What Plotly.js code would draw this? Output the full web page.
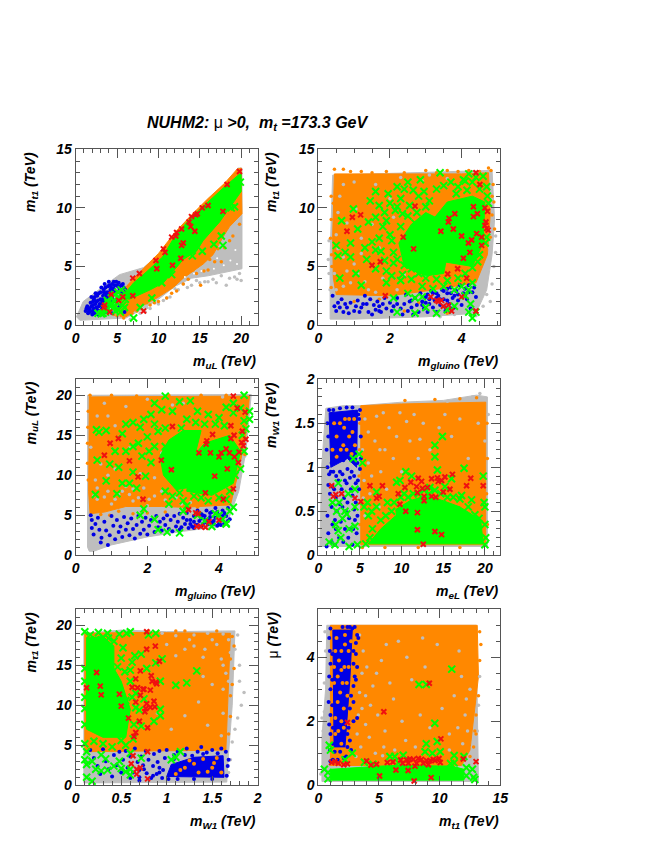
<!DOCTYPE html>
<html><head><meta charset="utf-8">
<script src="https://cdn.plot.ly/plotly-3.0.1.min.js"></script>
<style>html,body{margin:0;padding:0;background:#fff}</style></head><body>
<div id="chart" style="width:654px;height:846px"></div>
<script>
// Values, as flat x,y lists. Area = densely filled outline of a cloud.
const p1GrayArea=[0.1,0.7,0.9,2,2.5,2.85,5.3,4.3,8.2,4.9,10.6,6.3,12.6,7.7,15.8,10,18.6,12,19.6,13.4,20.1,13.4,20.1,4.8,18,4.5,16,4.2,14,4,12,3.3,10,2.2,8.2,1.4,6.1,0.6,0.5,0.4];
const p1Gray=[20,3.8,19.8,4.4,19.5,3.9,19.2,4.1,18.6,4,18.2,3.4,17.6,4.2,17,3.6,16.6,3.9,16,3.7,15.6,3.7,15,3.6,14.6,3.8,14,3.4,13.5,3.2,13,3.5,12.4,3,12,3.1,11.4,2.4,11,2.3,10.6,2.1,10,1.8,9.6,1.9,9,1.4,8.6,1.5,8.4,1.1,7.8,1,6.6,0.5];
const p1Specks=[19.5,5.2,18.7,5.5,17.9,5.1,16.7,4.8,15.2,4.6,14.3,4.4,13.2,4.1,19.3,6.4,17.1,5.7];
const p1OrangeArea=[6,3.2,8,4.7,10,6.1,12,7.9,14,9.4,16,10.8,18,12.1,19.5,13.3,20,13.4,20.1,9.5,18.6,8.4,17.8,7.5,16.6,6,15.4,5.2,13,4,11.8,3.2,9.8,2.3,7.7,1.5,6.1,0.7,5.4,0.7,5,1.5];
const p1Orange=[19.8,8.6,19,7.6,18.6,7.2,18,6.6,17.2,6.5,16.8,5.4,16,4.7,15.5,4.6,14.6,4.4,14.2,4.7,13.6,3.9,13,3.5,12.2,2.9,11.6,2.7,11,2.3,10,2,9.5,1.9,9,1.7,8.6,1.9,7.4,1.2,6.8,1,5.8,0.6,5,0.8,15.1,3.4,17.6,5.4,16.2,5.6,4.6,0.9,6.4,3.3];
const p1Blue=[1.2,1.2,1.4,1.6,1.5,1,1.7,1.4,1.8,1.9,2,1.2,2.1,1.7,2.2,2.2,2.3,1,2.5,1.5,2.5,2,2.6,2.5,2.8,1.2,2.9,1.8,3,2.2,3,2.8,3.2,1.4,3.3,2.5,3.4,3,3.5,1.9,3.6,2.2,3.7,1.1,3.8,2.8,3.9,3.3,4,2.3,4.1,1.7,4.2,3,4.3,2,4.4,3.5,4.5,2.6,4.6,3.1,4.7,1.4,4.8,2,4.9,3.7,5,2.8,5.1,3.3,5.2,3.6,5.3,1.6,5.4,3,5.5,3.4,5.6,2.7,5.7,3.5,5.8,3.2,5.9,1.1,6,3,3.4,1.1,2.7,0.9,2,0.9,4.4,1,1.9,2.4,3.1,3.2,3.5,3.5,2.4,2.7,4,3.7,4.6,3.7,2.2,1.4,2.8,1.6,3.2,2,3.8,1.5,3.7,2.5,4.1,2.8,2.4,1.8,3,1.1,1.6,1.2,1.9,1.6,2.1,2,2.3,2.4,2.7,2.1,2.8,2.7,3.1,1.7,3.3,2.2,3.4,2.8,3.6,3.2,3.7,1.8,3.9,2.5,4.1,3.4,4.3,3.2,4.4,2.3,4.5,3,4.7,3.4,4.8,2.8,5,3.4,5.3,3.1,5.5,2.6,1.3,1.4,1.7,1.1,3.6,2.7,4.2,2.6,2.6,1.3,2.2,1.1];
const p1GreenArea=[5.5,2.3,7,3.6,8.5,4.5,10.5,5.8,12,7.6,14,9.2,16,10.5,18,11.8,20,13,20,11.4,18.6,10,17.4,8.8,15.4,7.2,14.6,6.3,13,5.6,11.8,4.6,10.6,3.6,9,3,6.5,2.2];
const p1GreenX=[7,0.6,7.8,1.5,9.2,2.3,10.4,3.6,11.6,4.3,14.1,5.9,15.3,6.3,16.7,6.9,17.8,6.8,17.6,7.6,18.8,10,19.2,10.1,19.9,12.2,2.7,1,3.1,0.95,3.6,1.1,4.6,1.5,5.2,1.3,5.4,1.1,4.2,1.6,5.6,2.5,9.9,4.3,8.1,3.3,3.3,1,3.9,1.4,4.4,1.8,4.8,1.2,5,1.9,5.7,1.7,5.2,2.4,4.6,2.1,3.9,1.9,3.5,1.4,3.8,2.1,4.3,2.3,5.1,2.8,5.5,3,4.7,2.6,6,2.2,6.3,2.8,5.9,1.5];
const p1RedX=[19.8,13.1,18.3,12,17.8,9.7,16,10.2,15.3,10,14.7,9.5,14.5,9.4,14,9.25,13.7,8.8,13.9,8.4,14.4,8,12.8,8.2,12.2,7.9,12.1,7.6,11.6,7.5,13,7,12.8,6.8,10.6,6.5,10.8,6.2,9.7,5.5,9.8,4.8,11.7,5.1,12.7,5.7,7.7,4.4,6.9,4,6.9,2.5,5.7,2.4,5.2,2.1,4.3,2.6,3.5,1.7,3.4,1.5,4.1,1.1,8.2,1.2];

const p2GrayArea=[0.33,0.5,0.33,6,0.4,12.8,4.85,13.2,4.92,9,4.85,6,4.7,3,4.4,1,3,0.7,1,0.5];
const p2Gray=[4.95,7.6,4.95,6.2,4.9,5,4.85,3.5,4.8,2,4.7,2.6,4.6,1.6,0.28,5.6,0.3,7.2,0.3,4.4,0.33,3,4.4,0.8,3.4,0.7,3.8,0.9,2.6,6.6,1.2,6.1,0.8,4.6,0.7,5.8,0.55,6.5,0.9,3.6,1.4,3,2.1,9.2,1.5,8.6,0.6,11,1,12.2,2.3,12.6,3.1,12.8,1.8,4,1.1,4.4,0.5,3,3,4.2,2.2,3,1.6,2.8,0.45,4.4,0.7,3.3,1,5.2,1.3,3.7,1.9,4.6,2.4,4.3,0.5,7.7,0.8,8.7,1.2,7.4,1.7,6.6,2,10.8,0.55,9.6,1.6,12,0.7,12,1.05,9.9,2.9,12.3,3.6,12.5,4.75,4.9,4.78,6.6];
const p2OrangeArea=[0.4,7.5,0.45,12.9,2,12.9,4,12.9,4.75,13,4.8,9.5,4.72,6,4.4,3.6,3,2.9,2,2.5,0.5,2.6,0.42,4];
const p2Orange=[0.34,7.4,0.36,9,0.42,10.4,0.36,11,0.45,13.3,0.7,13.3,0.9,13.1,1.2,13.1,1.5,13,1.9,13.1,2.4,13,3,13.2,3.3,13,3.6,13.2,3.9,13.1,4.2,13.2,4.5,13.1,4.75,13.4,4.82,13.2,4.88,12,4.85,11,4.9,10.5,4.85,9.4,4.92,8.2,4.8,7.5,1,2,1.7,2.2,2.4,1.2,3.6,1,2.8,1.9,0.38,5,0.37,6,0.36,3.2];
const p2Blue=[0.4,2.5,0.45,1.6,0.5,1.2,0.55,1.9,0.6,1.5,0.65,2.2,0.7,1.1,0.8,1.5,0.85,1,0.9,1.9,1,1.2,1.05,1.6,1.1,2.1,1.15,1.1,1.2,1.5,1.3,2.5,1.35,1.8,1.4,1.1,1.45,2.2,1.5,0.9,1.55,1.7,1.6,1.3,1.65,2,1.7,1.6,1.75,1.1,1.8,1.8,1.85,2.3,1.9,1.4,2,1.9,2.05,1.2,2.1,1.6,2.2,2.3,2.3,1.4,2.35,0.9,2.4,1.8,2.45,2.6,2.5,1.2,2.55,2,2.6,1.5,2.65,0.9,2.7,2.3,2.75,1.7,2.8,1.1,2.85,2.7,2.9,2,2.95,1.4,3,2.4,3.05,1.1,3.1,1.8,3.15,2.9,3.2,1.5,3.25,2.1,3.3,1.1,3.35,2.5,3.4,1.7,3.45,3,3.5,2.2,3.55,1.2,3.6,2.7,3.65,1.8,3.7,3.2,3.75,2.3,3.8,1.5,3.85,2.9,3.9,2.1,3.95,3.4,4,1.7,4.05,2.7,4.1,3.1,4.15,2.2,4.2,3.4,4.25,1.4,4.3,2.8,4.35,3.2,4.4,2.4,3.1,2.2,3.3,2.7,3.5,2.9,3.2,2.7,3.7,1.4,3.8,2.5,2.9,1.7,3,1.9,3.6,2.1,2.2,1.8,0.75,1.8,1.25,1.8,1.7,1.2,2.6,2.1,3.05,2.6,3.4,2.2,3.6,3.1,3.9,2.6,4.1,2.5,4.2,2.8,3.7,2.7,3.3,2.3,3.55,1.5];
const p2GreenArea=[3.3,5.5,3.2,9,3.6,10.5,4.3,11,4.65,10.5,4.6,7,4.3,5];
const p2GreenArea2=[2.4,5,2.25,7,2.6,8.6,3,9.6,3.4,9,3.6,6,3.5,4.4,3,4.2];
const p2GreenX=[0.55,5.9,0.6,4,0.65,8.9,0.98,9.9,1.1,8.2,0.9,7,1.2,3.4,1.6,4.8,1.9,3.6,1.9,8.9,1.6,9.2,1.45,10.6,1.3,6.6,1.5,7.1,2,7.7,2.1,5.3,2.2,10.1,2.35,9.5,2.4,11.6,2.8,11,2.85,12.4,3.4,13,4.2,12.9,4.1,12.3,4.4,12.6,3.1,10.6,2.5,9.3,2.7,8.7,1.85,5.5,2.3,3.8,2.5,2.7,2.7,2.3,2.1,2.3,2.2,1.1,2.7,1,3.3,1,3.8,1.6,4.2,1.1,4.3,0.6,4.4,1.1,3.6,1.3,3,1.5,2.9,2.4,4.25,1.8,4.1,2.5,4,3.3,4.3,3.6,3.3,11.6,3.5,11.9,3.7,12.2,3.9,11.8,4.05,12.4,4.3,12.2,4.6,12.7,4.7,11.8,4.72,11,4.75,10.4,4.7,7.5,4.66,7,4.5,6,4.45,5.4,4.3,4.9,4.1,4.4,3.9,4,3.6,3.8,3.3,3.9,3,4,2.8,4.4,2.6,4.8,2.4,5.1,2.2,5.6,2.1,6.2,2.05,7.2,2.3,8.4,2.75,9.6,2.55,10.2,2.3,10.8,2.15,9.8,2,10.4,1.85,9.6,1.7,10.2,3,10.1,2.95,11.4,2.65,11.5,2.5,12.2,2.2,11.8,1.95,11.2,1.6,11.4,1.4,8.8,1.7,7.4,1.8,8.4,1.6,6.4,1.75,6.3,1.9,4.6,2.05,4.2,2.35,4.3,2.6,3.9,2.9,3.3,3.2,3.1,3.5,3.3,3.8,3,4.2,3,0.5,6.8,0.9,5.8,1.05,4.4,1.35,5.6,0.75,6.2,3.85,11.2,4.15,11.5,4.5,11.6];
const p2RedX=[4.4,13,4.51,12,4.33,10.1,4.44,9.5,4.33,9.25,4.65,10,4.72,9.7,2.7,10.15,1.18,9.4,0.95,9.2,0.8,8,3.81,9.5,3.65,9.1,3.63,8.8,3.77,8.2,3.42,8,2.37,7.5,2.66,6.5,4,7.6,4.28,7.25,4.19,7,4.42,7.8,4.56,7.5,4.56,6.8,4.65,8.5,4.68,8.8,4.7,8.25,4.74,8.1,4.23,6.2,4.05,5.7,3.89,4.8,3.61,4.35,4.14,4,1.73,5.4,1.5,5.1,1.87,2.5,3.14,2.4,4,2.4,3.35,2,3.44,2.1,3.49,1.6,3.72,1.2,4.4,1.2,3.3,2.1,3.63,1.7];

const p3GrayArea=[0.33,1,0.33,20,4.9,20.1,4.75,13,4.55,8,4.3,5,4.2,3.7,3,3,2,2.3,1,1.3,0.5,0.5,0.38,0.5];
const p3Gray=[2.2,7.4,1.6,6.8,2.4,8,1.2,7.6,2.8,7.2,1.9,8.4,1.4,8.6,0.9,8,3.2,6.6,0.6,7,1,6.4,2,6.2,2.6,6.2,0.7,11.4,2.4,12.8,0.9,17.4,1.4,18.6,2,19.5,3,19,0.42,13.5,1.8,10.2,1.1,10.8,2.2,9.7,4.65,11.6,4.72,12.4,0.5,7.4,0.8,7.3,1.1,7,1.5,7.6,1.75,7.2,2.05,7,2.5,6.9,2.95,6.4,1.3,8,1.6,8.3,0.6,8.4,0.55,9.4,0.9,10,1.5,13.4,1.1,16.2,0.6,17.4,0.8,19,2.7,18.8,4.1,19.8];
const p3OrangeArea=[0.37,13,0.38,19.8,4.85,19.9,4.75,15,4.52,10,4.32,6.3,3,6,2.4,6.1,1.4,6.1,0.8,5.4,0.4,5.2,0.36,8];
const p3Orange=[0.33,14,0.34,16,0.35,18,4.84,17,4.72,12.6,4.6,11,3.4,6,3.1,5.5,2.5,5.4,2,5.3,1.9,5.6,1.2,5.5,0.7,5.1,0.95,5,1.6,5.2,0.4,20,1,20,1.7,19.9,2.6,20,3.5,20,4.2,20,0.33,11.5,0.35,9.4];
const p3Blue=[0.42,5,0.45,4.4,0.45,3.4,0.5,2.6,0.55,3.9,0.62,4.7,0.66,3.2,0.7,1.6,0.72,2.2,0.8,4.2,0.85,3.1,0.9,1.3,0.95,2.5,1,4.9,1.05,3.7,1.1,2,1.15,4.4,1.2,2.9,1.25,3.6,1.3,2.3,1.35,4.8,1.4,3.2,1.45,4,1.5,2.5,1.55,4.6,1.6,3.3,1.65,2.1,1.7,3.8,1.75,4.9,1.8,2.7,1.85,4.2,1.9,3.2,1.95,4.7,2,2.6,2.05,3.7,2.1,4.4,2.2,2.9,2.25,4.9,2.3,3.5,2.35,4.2,2.4,3.1,2.45,4.6,2.5,3.8,2.55,5,2.6,3.3,2.65,4.4,2.7,3,2.75,4.9,2.8,3.6,2.85,4.2,2.9,5.2,2.95,3.5,3,4.7,3.05,3.9,3.1,5.3,3.15,3.4,3.2,4.4,3.25,3.6,3.3,4.9,3.35,3.8,3.4,5.6,3.45,4.3,3.5,3.6,3.55,5,3.6,4.4,3.65,5.6,3.7,3.9,3.75,4.8,3.8,5.4,3.85,4.3,3.9,5.9,3.95,3.7,4,5,4.05,4.4,4.1,5.6,4.15,4,4.2,4.9,4.25,5.9,4.3,4.5,3.3,4.2,3.5,5.2,3.6,4.9,3.7,4.4,3.8,4.1,3.9,4.7,4,3.9,3.5,4.6,3.4,3.8,4.1,4.9,3.2,3.9,3.1,4.4,3.75,5.3,3.95,5.4,4.15,5.3,3.55,3.9,3.85,3.9,4.05,3.8,4.25,4.3,3.65,4.1,3.3,3.4,2.9,3.2];
const p3GreenArea=[3.1,8,3.2,12,3.6,14,4.3,15,4.6,13,4.4,9,3.8,7.5];
const p3GreenArea2=[2.45,10,2.35,12.4,2.6,14.4,3,15.6,3.5,15.6,3.3,12,3.2,8.5,2.8,8.2];
const p3GreenX=[0.55,7.6,0.6,11.9,0.58,15.7,0.65,15.4,0.85,15.6,0.85,9.3,1.15,7.7,1.3,9,1.5,9,1.6,10.4,1.7,8.4,1.2,11,1.4,13,1.6,16.6,1.75,14,1.9,17,2,14.8,2.3,15.5,2.5,13.6,2.5,19.9,2.7,18,2.9,19.2,3.2,19.3,3.1,17,4.2,18.5,4.4,19,4.7,20,4.85,18,4.85,17,2.1,11.6,1.95,9.9,2.5,8,2.6,6.4,3,6.8,1.9,5.8,1.8,5,2.2,4.5,2.3,3.2,2.9,2.8,3,5.5,3.4,5,3.6,4.3,3.8,3.6,4,5,4.2,4,4.3,5.5,4.1,4.5,3.9,5.2,4.2,3.9,4.4,6,2.55,2.9,2.7,7.4,2.9,7.8,2.5,15.9,2.2,16.4,2.95,15.9,3.35,16.6,3.6,16.4,3.9,16.4,4.15,16.2,4,17.2,3.7,17.6,3.4,18,4.4,17.8,4.6,18.4,4.7,16.8,4.75,15.8,4.65,15,4.7,13,4.6,10.8,4.45,10,4.3,8,4.2,7,3.7,6.8,3.3,7.4,2.2,13.6,2.05,13,1.85,12.4,1.6,13.6,1.3,15.2,1.1,13,0.95,11.4,1.4,16.4,1.8,16,2.1,17.6,2.4,18.2,2.2,19,3.5,7.2,4,7.2,3.1,6.2];
const p3RedX=[4.4,19.9,4.51,18.4,4.73,17.9,2.7,16.1,1.19,14.6,0.96,14,0.8,12.5,1.5,11.8,2.39,11.9,2.67,10.7,1.74,9.8,1.88,7,3.82,15.1,3.66,14.3,3.64,13.9,3.44,12.8,3.76,12.8,4.33,16.2,4.42,15,4.33,14.6,4.65,15.5,4.75,14.5,4.63,14.1,4.68,13.7,4.56,12.9,4.29,12.8,4.2,13.3,4.06,12.8,4,12.3,4.43,12.3,4.54,11.6,4.23,10.8,3.88,9.9,4.4,8.3,3.62,7.8,4.12,7,3.15,5.7,3.35,5.3,3.42,5.2,4,4.4,3.72,4.2,3.38,3.6,3.49,3.6,3.62,3.5];

const p4GrayArea=[0.2,0.1,0.4,1,0.9,1.67,3,1.7,5,1.7,10,1.74,15,1.76,19,1.82,20.3,1.8,20.3,0.1];
const p4Gray=[6,1.05,5.5,0.85,6.8,1.3,7.5,0.95,8.5,1.45,9,1.1,10,0.95,11,1.3,12,1.1,12.6,1.5,13.4,1.2,9.8,1.62,14.5,1.45,16,1.35,17,1.55,18,1.1,19.2,1.5,20,1.3,20.4,1.6,6.2,0.7,7,1.58,8,1.2,5.3,1.2,5.6,1.55,15.5,1.75,18.5,1.8,19.4,1.84,5.6,0.45,6.4,0.9,7.3,0.55,8.2,0.75,6,1.4,7.4,1.2,9.4,1.35,10.6,1.52,5.4,0.65,7.8,1.62,12.2,1.32,11.5,1.6,15.2,1.6];
const p4OrangeArea=[5.1,0.12,5.1,1.7,10,1.72,15,1.73,20.1,1.74,20.1,0.12];
const p4Orange=[5,0.35,4.9,0.9,4.95,1.2,5,1.5,10.4,1.76,14,1.77,17,1.78,19,1.79,20.25,1.5,20.3,1.1,20.2,0.7,20.3,0.35,5.3,0.09,8,0.09,12,0.09,17,0.09];
const p4BlueArea=[1.5,1,1.3,1.62,4.7,1.65,4.6,1,3.5,1.1];
const p4Blue=[1,0.1,1.2,0.25,1.1,0.45,1.4,0.7,1.2,0.8,1.1,1,1,1.2,1.2,1.35,1.1,1.5,1.3,1.65,1.6,0.15,1.7,0.35,1.6,0.55,1.9,0.75,1.8,0.95,2,0.12,2.1,0.3,2.2,0.5,2.1,0.65,2.4,0.85,2.5,0.2,2.7,0.38,2.6,0.58,2.8,0.75,2.9,0.92,3,0.15,3.2,0.3,3.3,0.5,3.1,0.65,3.4,0.82,3.6,0.2,3.7,0.42,3.5,0.6,3.9,0.75,4,0.95,4.1,0.12,4.2,0.3,4.3,0.52,4.1,0.68,4.5,0.82,4.6,0.25,4.7,0.45,4.5,0.6,4.9,0.75,5,0.98,5.1,1.1,5.1,1.35,4.9,1.55,5,1.65,1.6,1.05,4.7,1.05,2,0.4,2.9,0.55,3.8,0.3,4.4,0.4,1.9,1.15,3,1.08,3.5,0.98,4.4,1.1,1.7,1.3,1.5,0.95,2.15,0.9,2.6,0.95,3.2,0.85,3.8,0.88,4.3,0.9,4.75,0.85,1.3,0.92,1.7,0.78,1.8,1.65,2.6,1.67,3.4,1.68,4.1,1.68,4.8,1.6];
const p4Holes=[2.2,1.35,3.1,1.45,4.1,1.4,2.6,1.5,3.7,1.35,3.2,1.55,2.7,1.2,4.3,1.55,1.9,1.5,3.4,1.2,4,1.15,1.7,1.2,2.2,1.12,3,1.25,4.4,1.25,3.7,1.55];
const p4GreenArea=[6,0.13,19.8,0.13,19.5,0.4,17,0.55,14,0.6,11,0.55,9.3,0.45,7.5,0.3];
const p4GreenArea2=[9.6,0.3,9.3,0.52,11,0.62,13,0.68,15,0.62,17,0.55,15,0.3];
const p4GreenX=[1.3,0.15,2,0.12,2.4,0.28,2.7,0.2,3.7,0.1,4.7,0.12,2.1,0.35,2.9,0.42,3.7,0.3,4.4,0.33,2.2,0.5,3.2,0.5,3.4,0.47,4.4,0.55,1.7,0.6,2.5,0.6,3.6,0.7,4.4,0.75,4.2,1.1,4.9,1.15,5.3,1.05,2.4,0.82,5.5,0.55,6,0.45,6.5,0.3,6.2,0.2,7,0.55,7.4,0.2,7,0.72,7.5,0.4,9.4,0.83,9.8,0.85,10.5,0.95,11.2,0.9,14,1.25,14,1.12,14.3,0.97,14.9,1.35,16,0.87,15.2,0.78,17.5,0.99,19.8,0.9,19.9,0.6,20,0.55,17.2,0.68,18.4,0.63,13.4,0.77,5.7,0.13,8.1,0.45,8.3,0.6,8.8,0.5,9.1,0.6,9.9,0.66,10.3,0.7,10.8,0.66,11.4,0.7,12,0.7,12.7,0.74,13.3,0.7,14,0.74,14.7,0.7,15.5,0.66,16.2,0.66,17,0.64,18,0.55,18.8,0.46,19.3,0.42,20,0.35,20.1,0.2,20,0.12,5.9,0.6,6.4,0.5];
const p4RedX=[1.6,0.79,1.8,0.67,2.1,0.69,2.8,0.7,4.4,0.65,5.1,0.61,6.2,0.79,7.7,0.79,7,0.65,7.3,0.67,9.6,0.7,9.8,0.58,10.5,0.5,10.4,0.77,11.1,0.83,11.8,0.78,12,0.875,12.4,0.84,11.9,0.71,12.5,0.76,13.1,0.77,12.7,0.67,12.7,0.62,13.6,0.87,14.3,0.88,14.4,0.84,14.8,0.85,15.2,0.89,16.1,0.92,18.3,0.875,17.8,0.79,19.8,0.79,15.8,0.75,15,0.72,13.6,0.67,14.1,0.66,11.9,0.485,11.9,0.29,14,0.27,14.8,0.235,12.6,0.125];

const p5GrayArea=[0.09,0.3,0.09,19,0.5,19.4,1,19.2,1.75,19.3,1.72,10,1.68,4,1.66,0.4];
const p5Gray=[1.78,18.8,1.75,17,1.8,15,1.8,13,1.85,11.6,1.82,10,1.78,8.4,1.75,7,1.72,5.4,1.7,3.2,1.68,1.6,1.5,18.2,1.3,17.4,1.4,16,1.6,15.8,1,17.6,1.1,16.2,1.62,12,1.5,12.6,1.35,10.4,1.2,8.7,1.45,7.5,1.6,6.2,1.05,7,0.9,9,1.3,18.8,1.68,18.2,1.1,18.7,1.45,19,1.65,14,1.62,9,1.55,17.6,1.25,18.2,1.62,18.9,1.7,16.6,1.42,17,1.68,13,1.2,17,1.62,15,0.95,19,1.4,13.6];
const p5OrangeArea=[0.1,4.2,0.1,19,0.6,19.1,1.7,19,1.67,10,1.65,4.4];
const p5Orange=[1.72,18.6,1.74,17.4,1.7,15.8,1.74,14.6,1.72,12.6,1.7,11.2,1.7,8.6,1.68,6.4,0.8,19.3,1.1,19.3,1.55,19.3,1.2,19.3];
const p5BlueArea=[1,1.1,1.05,2.6,1.3,3.5,1.62,3.7,1.63,1];
const p5Blue=[0.16,4.4,0.2,3.4,0.24,2.4,0.27,1.4,0.3,4.5,0.33,3,0.36,2,0.4,1.1,0.42,3.8,0.45,2.5,0.48,4.2,0.5,1.6,0.52,3.2,0.55,4.3,0.57,2.2,0.6,0.9,0.6,3.6,0.63,1.6,0.65,4.6,0.68,2.9,0.7,1,0.72,3.6,0.74,2.5,0.77,4.3,0.78,1.5,0.8,3.2,0.83,0.9,0.85,2.4,0.86,3.9,0.89,1.4,0.9,2.9,0.92,4.3,0.95,0.9,0.96,1.9,0.98,3.4,1,4.4,1.02,0.8,1.08,3.8,1.12,4.2,1.22,4.6,1.28,3.7,1.3,0.8,1.34,4.2,1.38,4.8,1.44,4.1,1.5,4.4,1.56,4,1.6,4.6,1.65,4.2,1.68,3.2,1.67,2.4,1.66,1.2,1.5,0.8,1.12,0.8,0.7,0.6,1.08,3.3,1.4,3.9,1.2,3.8,0.92,1.6,0.85,1.2,0.75,2,0.7,1.9,0.92,2.2];
const p5Holes=[1.3,2.7,1.45,1.7,1.52,2.8,1.2,2.2,1.35,1.6,1.5,2.2,1.1,1.4,1.25,3.1,1.6,1.6,1.4,3.3,1.55,3.4,1.15,1.9];
const p5GreenArea=[0.12,7,0.12,16,0.35,16,0.5,13,0.6,9.5,0.55,6,0.3,6];
const p5GreenArea2=[0.12,14,0.12,18.4,0.3,18.6,0.42,17.4,0.42,14];
const p5GreenX=[0.1,19.2,0.16,18.8,0.22,18.2,0.3,18.5,0.36,18.4,0.42,18,0.48,18.9,0.56,19,0.6,19.2,0.52,17.2,0.65,16.2,0.62,15.4,0.72,16.4,0.8,18.8,0.88,19,0.78,14.6,0.88,15.3,0.95,15.8,0.93,13,0.93,9.5,0.93,8.7,0.86,8,0.75,10.8,1.1,12.5,1.22,12.8,1.33,14.3,0.1,5.2,0.12,4.2,0.2,5.5,0.3,5.2,0.4,4.8,0.5,5.6,0.55,5,0.1,3.2,0.12,2.6,0.18,3,0.28,3.8,0.33,3.3,0.22,2,0.28,1.8,0.35,1.9,0.12,1,0.18,0.5,0.42,2.4,0.48,3,0.5,2.1,0.55,1.7,0.6,1.3,0.6,2,0.6,4,0.72,3.4,1.05,3.2,1.1,3.5,1.15,4.2,0.6,13,0.66,11.5,0.5,15.9,0.46,14.8,0.54,14.2,0.6,14.4,0.62,11,0.66,9.7,0.64,7.6,0.1,7.6,0.1,9.6,0.1,11,0.1,13,0.1,14.6,0.25,19.1,0.35,19,0.55,10.6,0.7,9.4,0.72,7.4,0.63,5.8];
const p5RedX=[0.78,19.2,0.78,17,0.875,17.4,0.92,15.5,0.71,14.3,0.23,14.1,0.83,13.7,0.66,13.3,0.84,13,0.88,12.9,0.89,12.7,0.12,12.2,0.27,12.4,0.62,12.25,0.68,12.2,0.74,12,0.75,12,0.82,11.9,0.28,11.3,0.48,11.4,0.71,11.25,0.86,10.5,0.66,10.4,0.5,9.9,0.78,10.2,0.77,9.6,0.82,9.75,0.87,9.8,0.76,9.2,0.58,8.4,0.7,8,0.79,7.2,0.66,6.6,0.64,6.1,0.79,4.2,0.63,3.7,0.61,2.7,0.71,2.2,0.67,2,0.67,1.4,0.79,0.8];

const p6GrayArea=[0.3,0.12,0.3,1.5,0.6,3,0.7,5,13,5,13.2,0.12];
const p6Gray=[0.2,0.35,0.4,1.7,0.3,2.1,0.5,2.3,0.5,3.2,0.6,4.2,0.55,4.8,13.3,3.4,13.2,2.5,13.1,1.7,13,1.1,12.7,1.2,3.4,4.7,3.7,4.2,3.6,3.5,3.9,2.8,3.3,2.2,4.2,1.5,4.5,3.1,5.2,3.9,5.5,1.7,6.2,2.7,6.6,4.5,7.2,1.4,7.7,3.3,8.4,2.2,4.7,1,5.3,0.92,6.3,1.1,10.8,1.6,11.2,2.8,11.6,4.2,12.3,1.7,12.1,2.2,12.5,3,11.9,1.3,9.8,4.4,8.8,3.7,10.2,2.4,3.5,1.2,3.1,0.9,3.4,2.9,4,3.7,4.9,2.2,3.2,1.6,3.6,2.4,3.9,1.9,4.3,2.5,4.8,3.5,5.6,4.4,5.9,3.2,5.4,1.2,6.9,2,7.3,4,8,1.2,8.6,4.6,9.2,1.8,10.8,1.1,11.5,1.8,12.2,2.7,11.8,3.4];
const p6OrangeArea=[1,5,13.1,5,13.2,3.4,12.5,1.1,11.8,0.62,1,0.62];
const p6Orange=[13.3,4.8,13.4,4.4,13.3,3.9,13.2,2.8,13,2.2,12.9,1.7,12.8,1.2,13,1.6,12.5,0.9];
const p6BlueArea=[1.3,1.2,1.2,4.85,2.8,4.85,2.6,3.3,2.2,1.2];
const p6Blue=[1,0.75,0.95,1.1,1,1.6,0.9,1.9,1,2.2,0.85,2.6,1,3,0.9,3.4,1,3.8,0.95,4.2,0.9,4.6,1,4.9,3,4.95,3.2,4.7,3.1,4.45,3.3,4.6,2.9,4.2,3.1,4.1,2.9,3.8,3.2,3.7,3,3.4,2.9,3.1,3.1,3.3,2.7,2.8,2.9,2.6,2.6,2.4,3.2,2.1,2.9,2,2.5,1.8,2.6,1.4,2.4,1.2,2.3,0.9,2.7,1.1,2.1,0.85,1.6,0.8,1.2,0.8,2.4,1.6,1.2,1.3,1.35,1.05,1.2,1.8,1.15,2.5,1.15,3.3,1.15,4.1,2.8,4.9,2.6,4.95,2.4,4.95,2,4.95,1.8,1.05];
const p6Holes=[1.5,4.6,2.2,4.4,1.7,3.9,2.5,3.7,1.3,3.2,2,3.2,2.4,2.8,1.6,2.6,1.9,2,1.4,1.6,1.9,1.3,2.7,4.5,1.4,2.1,2.2,4.7,1.9,4.2,2.15,3.7,1.6,3.4,1.8,2.9,2.1,2.4,1.65,1.7,1.4,4.2,2.5,4.2,1.3,3.7,2.1,1.8,2.35,3.2,1.9,3.6];
const p6GreenArea=[1,0.16,12,0.16,12,0.5,11,0.6,6,0.62,1,0.5];
const p6GreenX=[0.9,1.25,1,1.1,2.2,0.8,2.8,1,3.8,0.72,5.9,0.9,6.3,0.9,7,0.94,8.8,1.05,8.9,1.3,9.4,1,9.6,1.94,9.8,1.37,10.05,1.05,11.2,0.93,12,0.9,12.2,0.55,12.7,0.5,12.8,0.25,12.9,0.18,12.2,0.3,0.5,0.5,0.8,0.4,8.3,3.15,8.9,3.15,11,3.63,4.5,0.66,6.6,0.7,11.2,0.7,10.9,0.68,0.8,0.2];
const p6RedX=[2.4,1.96,5.4,2.3,9.15,3.19,10.1,1.45,13,0.74,11.95,0.82,10.05,0.71,9.95,0.84,9.3,0.24,7.9,0.135,5.05,0.29,6.4,0.48,7.4,0.46,1.1,0.71,1.37,0.74,1.65,0.69,2.1,0.64,2.4,0.67,3.98,0.76,4.34,0.63,4.8,0.66,5.69,0.71,6.15,0.73,6.79,0.79,6.95,0.69,7.42,0.69,7.83,0.81,8.1,0.69,7.97,0.6,8.65,0.69,9.07,0.64,9.2,0.77,9.62,0.77,7.28,0.79,7.55,0.82,8.24,0.84,8.5,0.81,8.93,0.77,9.48,0.81];

const baseFont={family:'Liberation Sans',color:'#000'};
const tickFont=Object.assign({size:14,weight:'bold',style:'italic'},baseFont);
const labelFont=Object.assign({size:14,weight:'bold',style:'italic'},baseFont);
const GRAY='#bebebe',ORANGE='#ff8800',BLUE='#0000e6',GREEN='#00ff00',RED='#f01010';
const frames=[[75.7,257.7,149.3,325,22,5,1,15,5,1],[318.3,500.3,149.3,325,5.08,2,0.5,15,5,1],[75.7,257.7,379.3,555.3,5.08,2,0.5,22,5,1],[318.3,500.3,379.3,555.3,21.85,5,1,2,0.5,0.1],[75.7,257.7,609.3,785.3,2,0.5,0.1,22,5,1],[318.3,500.3,609.3,785.3,15,5,1,5.5,2,0.5]];
const panels=[
 {ga:p1GrayArea,g:p1Gray,s:p1Specks,oa:p1OrangeArea,o:p1Orange,b:p1Blue,gna:p1GreenArea,gn:p1GreenX,r:p1RedX},
 {ga:p2GrayArea,g:p2Gray,oa:p2OrangeArea,o:p2Orange,b:p2Blue,gna:p2GreenArea,gnb:p2GreenArea2,gn:p2GreenX,r:p2RedX},
 {ga:p3GrayArea,g:p3Gray,oa:p3OrangeArea,o:p3Orange,b:p3Blue,gna:p3GreenArea,gnb:p3GreenArea2,gn:p3GreenX,r:p3RedX},
 {ga:p4GrayArea,g:p4Gray,oa:p4OrangeArea,o:p4Orange,ba:p4BlueArea,b:p4Blue,h:p4Holes,gna:p4GreenArea,gnb:p4GreenArea2,gn:p4GreenX,r:p4RedX},
 {ga:p5GrayArea,g:p5Gray,oa:p5OrangeArea,o:p5Orange,ba:p5BlueArea,b:p5Blue,h:p5Holes,gna:p5GreenArea,gnb:p5GreenArea2,gn:p5GreenX,r:p5RedX},
 {ga:p6GrayArea,g:p6Gray,oa:p6OrangeArea,o:p6Orange,ba:p6BlueArea,b:p6Blue,h:p6Holes,gna:p6GreenArea,gn:p6GreenX,r:p6RedX}];
const xs=a=>a.filter((_,i)=>i%2===0), ys=a=>a.filter((_,i)=>i%2===1);
const data=[];
const layout={width:654,height:846,margin:{l:0,r:0,t:0,b:0},showlegend:false,paper_bgcolor:'#fff',plot_bgcolor:'#fff',annotations:[]};
panels.forEach((p,i)=>{
 const n=i+1,sx=i?('x'+n):'x',sy=i?('y'+n):'y',f=frames[i];
 const area=(a,c)=>{if(a)data.push({type:'scatter',mode:'lines',x:xs(a).concat(a[0]),y:ys(a).concat(a[1]),fill:'toself',fillcolor:c,line:{color:c,width:1},xaxis:sx,yaxis:sy,hoverinfo:'skip'})};
 const dots=(a,c,sym,size)=>{if(a)data.push({type:'scatter',mode:'markers',x:xs(a),y:ys(a),xaxis:sx,yaxis:sy,hoverinfo:'skip',marker:sym?{symbol:'x-thin',size:size,line:{color:c,width:2}}:{color:c,size:size,line:{width:0}}})};
 area(p.ga,GRAY);area(p.oa,ORANGE);dots(p.g,GRAY,0,3.5);dots(p.o,ORANGE,0,3.5);dots(p.s,'#ffffff',0,2);
 area(p.ba,BLUE);dots(p.h,ORANGE,0,4);dots(p.b,BLUE,0,4);
 area(p.gna,GREEN);area(p.gnb,GREEN);dots(p.gn,GREEN,1,7);dots(p.r,RED,1,5);
 const axis=(dom,range,major,minor)=>({domain:dom,range:[0,range],dtick:major,tick0:0,ticks:'inside',ticklen:9,tickwidth:1,tickcolor:'#555',mirror:'ticks',showline:true,linecolor:'#555',linewidth:1,showgrid:false,zeroline:false,tickfont:tickFont,minor:{dtick:minor,tick0:0,ticks:'inside',ticklen:4,tickwidth:1,tickcolor:'#555',showgrid:false}});
 layout['xaxis'+(i?n:'')]=Object.assign(axis([f[0]/654,f[1]/654],f[4],f[5],f[6]),{anchor:sy});
 layout['yaxis'+(i?n:'')]=Object.assign(axis([1-f[3]/846,1-f[2]/846],f[7],f[8],f[9]),{anchor:sx});
});
const xTitles=[['m<sub>uL</sub> (TeV)',258,362],['m<sub>gluino</sub> (TeV)',501,362],['m<sub>gluino</sub> (TeV)',258,592],['m<sub>eL</sub> (TeV)',501,592],['m<sub>W1</sub> (TeV)',258,822],['m<sub>t1</sub> (TeV)',501,822]];
const yTitles=[['m<sub>t1</sub> (TeV)',31,150],['m<sub>t1</sub> (TeV)',272,150],['m<sub>uL</sub> (TeV)',31,380],['m<sub>W1</sub> (TeV)',272,380],['m<sub>τ1</sub> (TeV)',31,610]];
xTitles.forEach(t=>layout.annotations.push({xref:'paper',yref:'paper',x:t[1]/654,y:1-t[2]/846,xanchor:'right',yanchor:'middle',showarrow:false,text:t[0],font:labelFont}));
yTitles.forEach(t=>layout.annotations.push({xref:'paper',yref:'paper',x:t[1]/654,y:1-t[2]/846,xanchor:'center',yanchor:'top',textangle:-90,showarrow:false,text:t[0],font:labelFont}));
layout.annotations.push({xref:'paper',yref:'paper',x:272/654,y:1-610/846,xanchor:'center',yanchor:'top',textangle:-90,showarrow:false,text:'μ <b><i>(TeV)</i></b>',font:Object.assign({size:14},baseFont)});
layout.annotations.push({xref:'paper',yref:'paper',x:145/654,y:1-124/846,xanchor:'left',yanchor:'middle',showarrow:false,text:'<b><i>NUHM2:</i></b> μ <b><i>&gt;0,  m<sub>t</sub> =173.3 GeV</i></b>',font:Object.assign({size:16},baseFont)});
Plotly.newPlot('chart',data,layout,{displayModeBar:false,staticPlot:true});
</script></body></html>
